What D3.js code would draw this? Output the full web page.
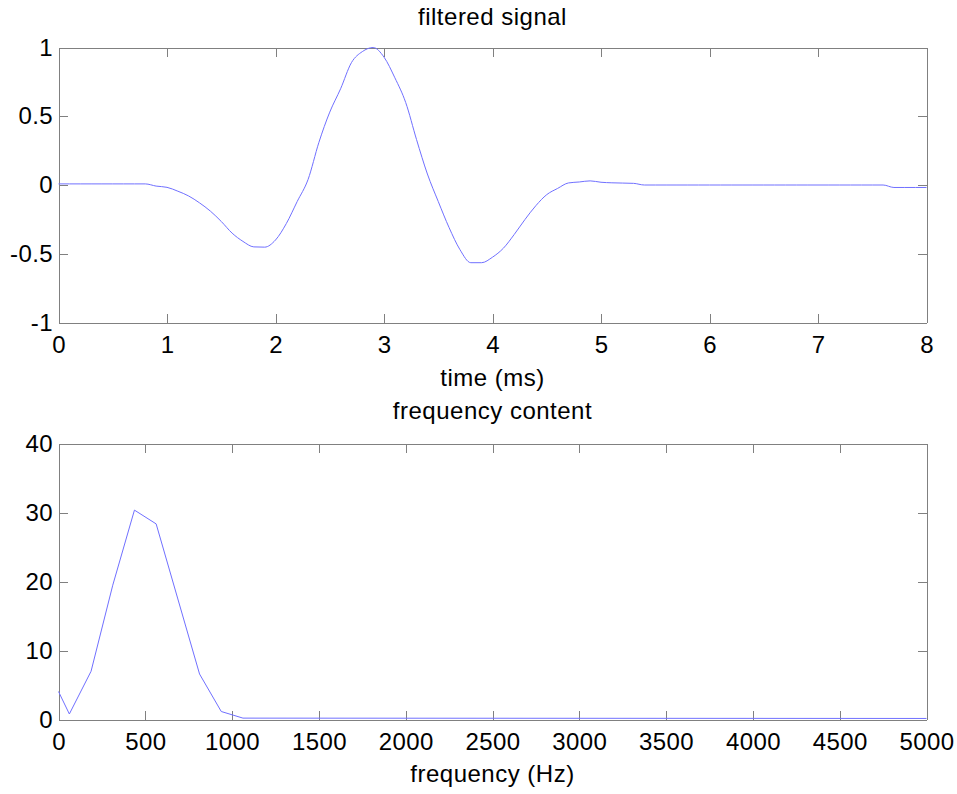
<!DOCTYPE html>
<html>
<head>
<meta charset="utf-8">
<script src="https://cdn.jsdelivr.net/npm/d3@7"></script>
<style>
  body { margin: 0; background: #fff; }
  svg { display: block; font-family: "Liberation Sans", Arial, sans-serif; }
  .axis text { font-size: 24px; fill: #000; letter-spacing: 0.4px; }
  .axis line, .axis path { stroke: #808080; shape-rendering: crispEdges; }
  .label { font-size: 24px; fill: #000; letter-spacing: 0.5px; text-anchor: middle; }
</style>
</head>
<body>
<svg id="chart" width="957" height="794"></svg>
<script>
const timeMs = d3.range(0, 81).map(i => +(i * 0.1).toFixed(1));
const signal = [
  0.008, 0.008, 0.008, 0.008, 0.008, 0.008, 0.008, 0.008, 0.008, -0.008,
  -0.017, -0.045, -0.08, -0.13, -0.19, -0.265, -0.35, -0.41, -0.45, -0.452,
  -0.40, -0.28, -0.12, 0.04, 0.31, 0.53, 0.70, 0.89, 0.97, 1.0,
  0.93, 0.78, 0.60, 0.33, 0.08, -0.12, -0.31, -0.47, -0.565, -0.565,
  -0.525, -0.46, -0.36, -0.25, -0.15, -0.07, -0.025, 0.015, 0.022, 0.03,
  0.02, 0.016, 0.014, 0.012, 0.0, 0.0, 0.0, 0.0, 0.0, 0.0,
  0.0, 0.0, 0.0, 0.0, 0.0, 0.0, 0.0, 0.0, 0.0, 0.0,
  0.0, 0.0, 0.0, 0.0, 0.0, 0.0, 0.0, -0.018, -0.018, -0.018,
  -0.018
];

// spectrum magnitude
const freqHz = [0, 62.5, 187.5, 312.5, 437.5, 562.5, 687.5, 812.5, 937.5, 1062.5, 5000];
const magnitude = [4.06, 0.8, 7.0, 19.5, 30.4, 28.4, 17.5, 6.6, 1.16, 0.2, 0.15];

const timeTicks = [0, 1, 2, 3, 4, 5, 6, 7, 8];
const signalTicks = [-1, -0.5, 0, 0.5, 1];
const freqTicks = [0, 500, 1000, 1500, 2000, 2500, 3000, 3500, 4000, 4500, 5000];
const magTicks = [0, 10, 20, 30, 40];

const svg = d3.select("#chart");
const left = 58.5, right = 926.5;
const lineColor = "#7070ff";
const tickLen = 9;
const plain = d => String(d);   // hyphen minus, like the original

function drawPanel(opts) {
    const x = d3.scaleLinear().domain(opts.xDomain).range([left, right]);
    const y = d3.scaleLinear().domain(opts.yDomain).range([opts.bottom, opts.top]);
    const g = svg.append("g");

    g.append("g").attr("class", "axis")
        .attr("transform", `translate(0,${opts.bottom})`)
        .call(d3.axisBottom(x).tickValues(opts.xTicks).tickFormat(plain).tickSizeInner(-tickLen).tickSizeOuter(0).tickPadding(13));
    g.append("g").attr("class", "axis")
        .attr("transform", `translate(0,${opts.top})`)
        .call(d3.axisTop(x).tickValues(opts.xTicks).tickFormat("").tickSizeInner(-tickLen).tickSizeOuter(0));
    g.append("g").attr("class", "axis")
        .attr("transform", `translate(${left},0)`)
        .call(d3.axisLeft(y).tickValues(opts.yTicks).tickFormat(plain).tickSizeInner(-tickLen).tickSizeOuter(0).tickPadding(5.5));
    g.append("g").attr("class", "axis")
        .attr("transform", `translate(${right},0)`)
        .call(d3.axisRight(y).tickValues(opts.yTicks).tickFormat("").tickSizeInner(-tickLen).tickSizeOuter(0));

    const line = d3.line().curve(opts.curve).x((d, i) => x(opts.xs[i])).y(d => y(d));
    g.append("path")
        .datum(opts.ys)
        .attr("fill", "none")
        .attr("stroke", lineColor)
        .attr("stroke-width", 1)
        .attr("d", line);

    g.append("text").attr("class", "label")
        .attr("x", (left + right) / 2).attr("y", opts.titleY)
        .text(opts.title);
    g.append("text").attr("class", "label")
        .attr("x", (left + right) / 2).attr("y", opts.xLabelY)
        .text(opts.xLabel);
}

drawPanel({
    top: 47.5, bottom: 322.5,
    xDomain: [0, 8], yDomain: [-1, 1],
    xTicks: timeTicks, yTicks: signalTicks,
    xs: timeMs, ys: signal, curve: d3.curveMonotoneX,
    title: "filtered signal", titleY: 25,
    xLabel: "time (ms)", xLabelY: 385.5
});

drawPanel({
    top: 444, bottom: 719.5,
    xDomain: [0, 5000], yDomain: [0, 40],
    xTicks: freqTicks, yTicks: magTicks,
    xs: freqHz, ys: magnitude, curve: d3.curveLinear,
    title: "frequency content", titleY: 419,
    xLabel: "frequency (Hz)", xLabelY: 782
});
</script>
</body>
</html>
